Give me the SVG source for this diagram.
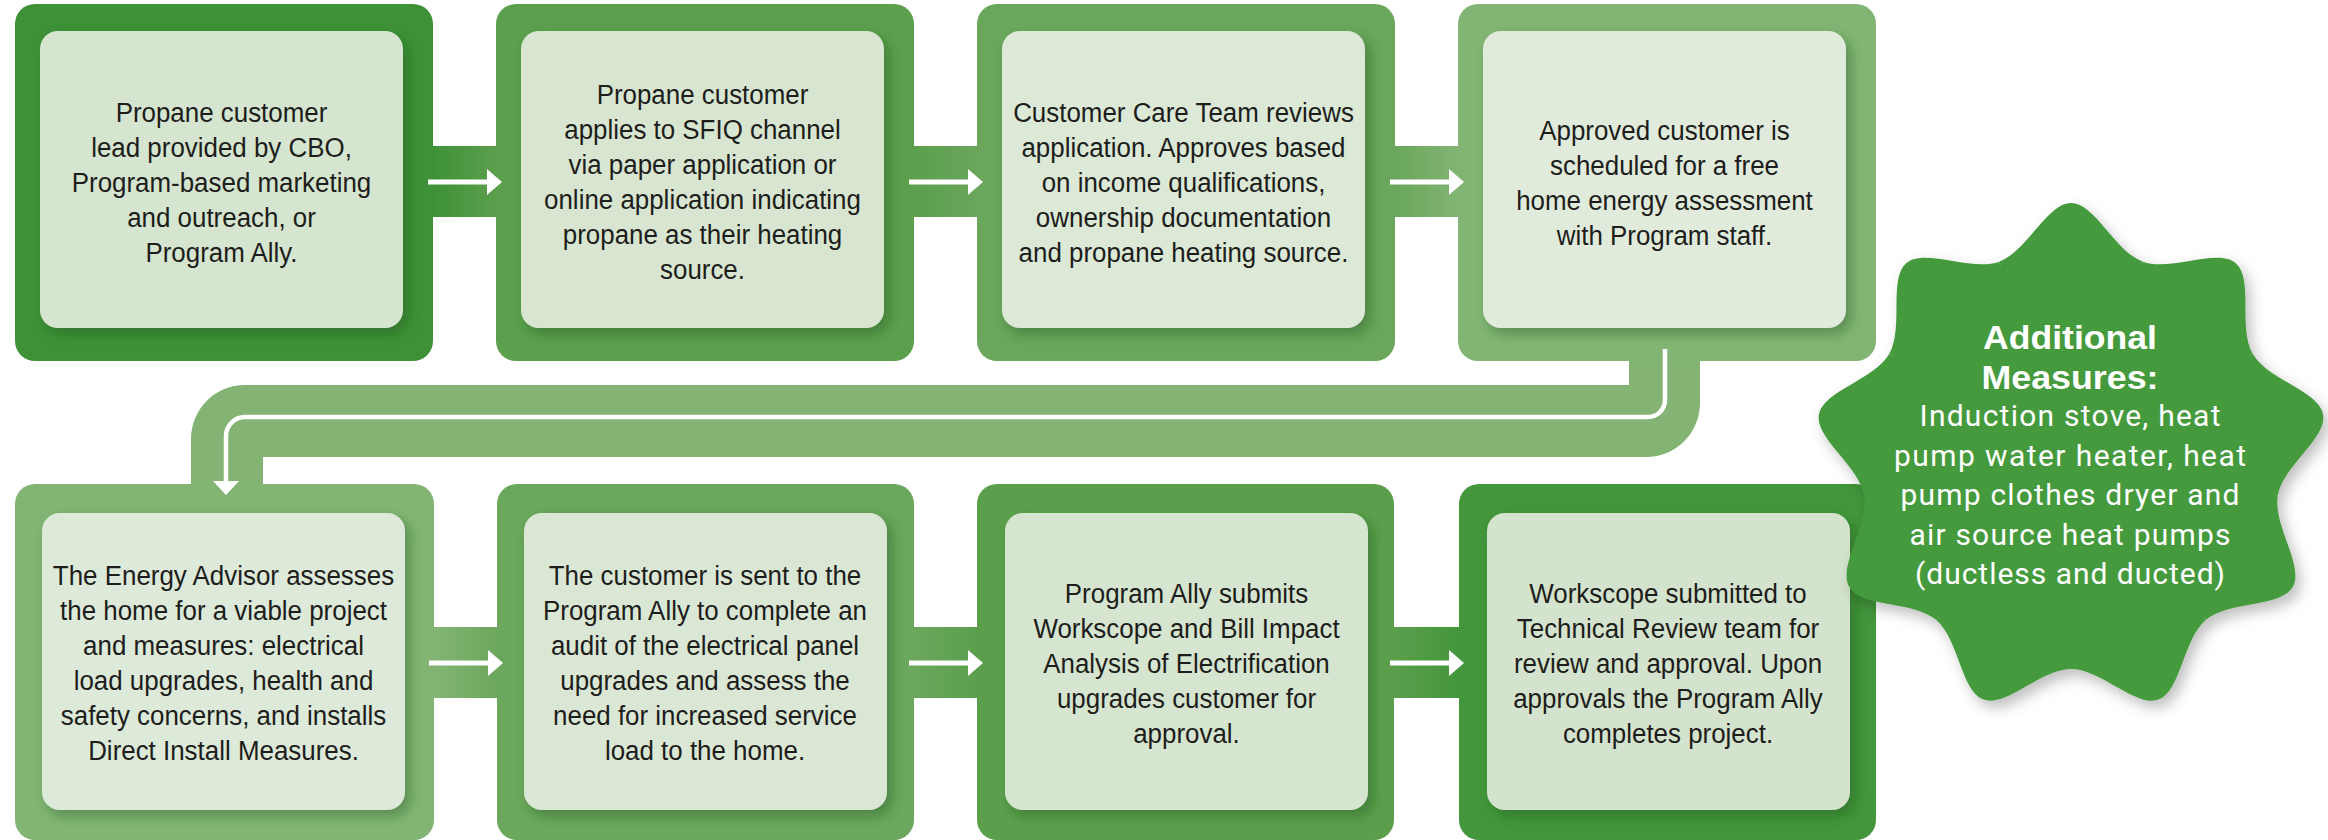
<svg xmlns="http://www.w3.org/2000/svg" xmlns:xlink="http://www.w3.org/1999/xlink" width="2328" height="840" viewBox="0 0 2328 840">
<style>
.o{stroke:none}
.i{filter:url(#sh)}
.bt{font-family:"Liberation Sans",Arial,sans-serif;font-size:27px;fill:#1d1d1b;text-anchor:middle}
.sb{font-family:"Liberation Sans",Arial,sans-serif;font-weight:bold;font-size:34px;fill:#ffffff;text-anchor:middle}
.sr{font-family:Roboto,"Liberation Sans",sans-serif;font-size:30px;fill:#ffffff;text-anchor:middle}
.wl{fill:none;stroke:#ffffff;stroke-width:5}
.ah{fill:#ffffff}
</style>
<defs>
<filter id="sh" x="-10%" y="-10%" width="125%" height="125%">
<feDropShadow dx="5" dy="6" stdDeviation="6" flood-color="#1e4d1a" flood-opacity="0.4"/>
</filter>
<filter id="ssh" x="-10%" y="-10%" width="125%" height="125%">
<feDropShadow dx="5" dy="7" stdDeviation="7" flood-color="#000000" flood-opacity="0.25"/>
</filter>
<linearGradient id="g12"><stop offset="0" stop-color="#3e9137"/><stop offset="1" stop-color="#5c9f4d"/></linearGradient>
<linearGradient id="g23"><stop offset="0" stop-color="#5c9f4d"/><stop offset="1" stop-color="#6aa65c"/></linearGradient>
<linearGradient id="g34"><stop offset="0" stop-color="#6aa65c"/><stop offset="1" stop-color="#82b574"/></linearGradient>
<linearGradient id="g56"><stop offset="0" stop-color="#82b574"/><stop offset="1" stop-color="#6ba75c"/></linearGradient>
<linearGradient id="g67"><stop offset="0" stop-color="#6ba75c"/><stop offset="1" stop-color="#5b9f4c"/></linearGradient>
<linearGradient id="g78"><stop offset="0" stop-color="#5b9f4c"/><stop offset="1" stop-color="#43963b"/></linearGradient>
<path id="arm" d="M0,0 L-71.8,-197.3 C-43.6,-207.6 -24,-256 0,-256 C24,-256 43.6,-207.6 71.8,-197.3 Z"/>
</defs>

<g id="connector-bands">
<rect x="432" y="146" width="65" height="71" fill="url(#g12)"/>
<rect x="913" y="146" width="65" height="71" fill="url(#g23)"/>
<rect x="1394" y="146" width="65" height="71" fill="url(#g34)"/>
<rect x="433" y="627" width="65" height="71" fill="url(#g56)"/>
<rect x="913" y="627" width="65" height="71" fill="url(#g67)"/>
<rect x="1393" y="627" width="67" height="71" fill="url(#g78)"/>
<path d="M1629,359 L1700,359 L1700,403 A54,54 0 0 1 1646,457 L263,457 L263,487 L191,487 L191,439 A54,54 0 0 1 245,385 L1629,385 Z" fill="#83b473"/>
</g>

<g id="node1">
<rect class="o" x="15" y="4" width="418" height="357" rx="20" fill="#3e9137"/>
<rect class="i" x="40" y="31" width="363" height="297" rx="18" fill="#d5e5cf"/>
<text class="bt" transform="translate(221.5 0) scale(0.96 1)"><tspan x="0" y="122">Propane customer</tspan><tspan x="0" y="157">lead provided by CBO,</tspan><tspan x="0" y="192">Program-based marketing</tspan><tspan x="0" y="227">and outreach, or</tspan><tspan x="0" y="262">Program Ally.</tspan></text>
</g>
<g id="node2">
<rect class="o" x="496" y="4" width="418" height="357" rx="20" fill="#5c9f4d"/>
<rect class="i" x="521" y="31" width="363" height="297" rx="18" fill="#d8e6d1"/>
<text class="bt" transform="translate(702.5 0) scale(0.96 1)"><tspan x="0" y="104">Propane customer</tspan><tspan x="0" y="139">applies to SFIQ channel</tspan><tspan x="0" y="174">via paper application or</tspan><tspan x="0" y="209">online application indicating</tspan><tspan x="0" y="244">propane as their heating</tspan><tspan x="0" y="279">source.</tspan></text>
</g>
<g id="node3">
<rect class="o" x="977" y="4" width="418" height="357" rx="20" fill="#6aa65c"/>
<rect class="i" x="1002" y="31" width="363" height="297" rx="18" fill="#dce9d7"/>
<text class="bt" transform="translate(1183.5 0) scale(0.96 1)"><tspan x="0" y="122">Customer Care Team reviews</tspan><tspan x="0" y="157">application. Approves based</tspan><tspan x="0" y="192">on income qualifications,</tspan><tspan x="0" y="227">ownership documentation</tspan><tspan x="0" y="262">and propane heating source.</tspan></text>
</g>
<g id="node4">
<rect class="o" x="1458" y="4" width="418" height="357" rx="20" fill="#82b574"/>
<rect class="i" x="1483" y="31" width="363" height="297" rx="18" fill="#e1ebdc"/>
<text class="bt" transform="translate(1664.5 0) scale(0.96 1)"><tspan x="0" y="140">Approved customer is</tspan><tspan x="0" y="175">scheduled for a free</tspan><tspan x="0" y="210">home energy assessment</tspan><tspan x="0" y="245">with Program staff.</tspan></text>
</g>
<g id="node5">
<rect class="o" x="15" y="484" width="419" height="356" rx="20" fill="#82b574"/>
<rect class="i" x="42" y="513" width="363" height="297" rx="18" fill="#dde9d9"/>
<text class="bt" transform="translate(223.5 0) scale(0.96 1)"><tspan x="0" y="585">The Energy Advisor assesses</tspan><tspan x="0" y="620">the home for a viable project</tspan><tspan x="0" y="655">and measures: electrical</tspan><tspan x="0" y="690">load upgrades, health and</tspan><tspan x="0" y="725">safety concerns, and installs</tspan><tspan x="0" y="760">Direct Install Measures.</tspan></text>
</g>
<g id="node6">
<rect class="o" x="497" y="484" width="417" height="356" rx="20" fill="#6ba75c"/>
<rect class="i" x="524" y="513" width="363" height="297" rx="18" fill="#dbe7d5"/>
<text class="bt" transform="translate(705 0) scale(0.96 1)"><tspan x="0" y="585">The customer is sent to the</tspan><tspan x="0" y="620">Program Ally to complete an</tspan><tspan x="0" y="655">audit of the electrical panel</tspan><tspan x="0" y="690">upgrades and assess the</tspan><tspan x="0" y="725">need for increased service</tspan><tspan x="0" y="760">load to the home.</tspan></text>
</g>
<g id="node7">
<rect class="o" x="977" y="484" width="417" height="356" rx="20" fill="#5b9f4c"/>
<rect class="i" x="1005" y="513" width="363" height="297" rx="18" fill="#d6e5d0"/>
<text class="bt" transform="translate(1186.5 0) scale(0.96 1)"><tspan x="0" y="603">Program Ally submits</tspan><tspan x="0" y="638">Workscope and Bill Impact</tspan><tspan x="0" y="673">Analysis of Electrification</tspan><tspan x="0" y="708">upgrades customer for</tspan><tspan x="0" y="743">approval.</tspan></text>
</g>
<g id="node8">
<rect class="o" x="1459" y="484" width="417" height="356" rx="20" fill="#43963b"/>
<rect class="i" x="1487" y="513" width="363" height="297" rx="18" fill="#d4e3cd"/>
<text class="bt" transform="translate(1668 0) scale(0.96 1)"><tspan x="0" y="603">Workscope submitted to</tspan><tspan x="0" y="638">Technical Review team for</tspan><tspan x="0" y="673">review and approval. Upon</tspan><tspan x="0" y="708">approvals the Program Ally</tspan><tspan x="0" y="743">completes project.</tspan></text>
</g>

<g id="connectors">
<path class="wl" d="M428,182 H488"/>
<polygon class="ah" points="487,169 487,195 502,182"/>
<path class="wl" d="M909,182 H969"/>
<polygon class="ah" points="968,169 968,195 983,182"/>
<path class="wl" d="M1390,182 H1450"/>
<polygon class="ah" points="1449,169 1449,195 1464,182"/>
<path class="wl" d="M429,663 H489"/>
<polygon class="ah" points="488,650 488,676 503,663"/>
<path class="wl" d="M909,663 H969"/>
<polygon class="ah" points="968,650 968,676 983,663"/>
<path class="wl" d="M1390,663 H1450"/>
<polygon class="ah" points="1449,650 1449,676 1464,663"/>
<path class="wl" style="stroke-width:4.5" d="M1665,349 L1665,400 A17,17 0 0 1 1648,417 L245,417 A19,19 0 0 0 226,436 L226,483"/>
<polygon class="ah" points="213,481 239,481 226,495"/>
</g>

<g id="additional-measures">
<g fill="#449a3d" filter="url(#ssh)">
<circle cx="2071" cy="459" r="206"/>
<use xlink:href="#arm" transform="translate(2071 459)"/>
<use xlink:href="#arm" transform="translate(2071 459) rotate(40)"/>
<use xlink:href="#arm" transform="translate(2071 459) rotate(80)"/>
<use xlink:href="#arm" transform="translate(2071 459) rotate(120)"/>
<use xlink:href="#arm" transform="translate(2071 459) rotate(160)"/>
<use xlink:href="#arm" transform="translate(2071 459) rotate(200)"/>
<use xlink:href="#arm" transform="translate(2071 459) rotate(240)"/>
<use xlink:href="#arm" transform="translate(2071 459) rotate(280)"/>
<use xlink:href="#arm" transform="translate(2071 459) rotate(320)"/>
</g>
<text class="sb" x="2070" y="349" textLength="174" lengthAdjust="spacingAndGlyphs">Additional</text>
<text class="sb" x="2070" y="389" textLength="177" lengthAdjust="spacingAndGlyphs">Measures:</text>
<text class="sr" x="2070" y="426" textLength="301">Induction stove, heat</text>
<text class="sr" x="2070" y="465.5" textLength="352">pump water heater, heat</text>
<text class="sr" x="2070" y="505" textLength="339">pump clothes dryer and</text>
<text class="sr" x="2070" y="544.5" textLength="321">air source heat pumps</text>
<text class="sr" x="2070" y="584" textLength="310">(ductless and ducted)</text>
</g>
</svg>
